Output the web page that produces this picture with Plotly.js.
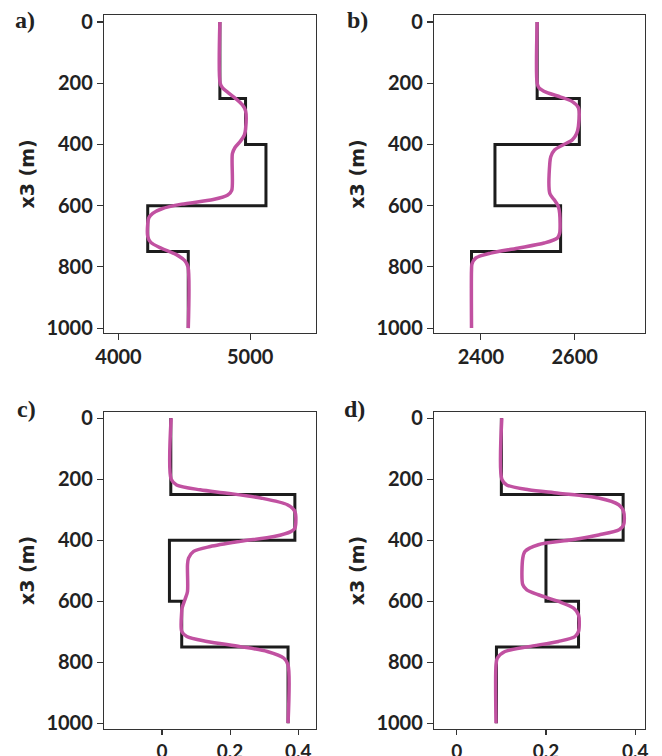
<!DOCTYPE html>
<html>
<head>
<meta charset="utf-8">
<script src="https://cdn.plot.ly/plotly-3.0.1.min.js"></script>
<style>html,body{margin:0;padding:0;background:#fff;}#chart{width:662px;height:756px;}</style>
</head>
<body>
<div id="chart"></div>
<script>
// ---- Data ----
// Layer boundaries (depth, m) for the true (blocky) models
var layerBounds = [0, 250, 400, 600, 750, 1000];
// True layer values per panel
var trueA = [4770, 4965, 5120, 4222, 4530];
var trueB = [2520, 2610, 2430, 2570, 2380];
var trueC = [0.026, 0.390, 0.022, 0.058, 0.370];
var trueD = [0.100, 0.373, 0.200, 0.273, 0.089];

// Inverted (smooth) curves: depth and value
var depthA = [0, 200, 215, 230, 250, 270, 290, 350, 370, 390, 410, 430, 550, 565, 580, 595, 610, 625, 640, 660, 700, 720, 740, 760, 780, 800, 1000];
var invA   = [4770, 4772, 4790, 4830, 4890, 4940, 4965, 4965, 4955, 4925, 4885, 4865, 4860, 4830, 4720, 4480, 4330, 4260, 4230, 4222, 4222, 4245, 4330, 4440, 4505, 4528, 4530];

var depthB = [0, 200, 215, 230, 245, 260, 280, 340, 365, 385, 400, 418, 440, 460, 560, 580, 602, 625, 690, 706, 722, 739, 755, 771, 790, 810, 1000];
var invB   = [2520, 2520, 2524, 2540, 2570, 2595, 2608, 2608, 2604, 2595, 2577, 2557, 2549, 2547, 2547, 2556, 2565, 2568, 2568, 2563, 2535, 2478, 2421, 2389, 2381, 2380, 2380];

var depthC = [0, 200, 219, 235, 246, 262, 284, 306, 361, 372, 388, 404, 421, 437, 459, 481, 568, 590, 623, 634, 699, 716, 732, 749, 765, 787, 809, 1000];
var invC   = [0.027, 0.027, 0.043, 0.112, 0.191, 0.290, 0.368, 0.390, 0.390, 0.378, 0.329, 0.230, 0.142, 0.093, 0.078, 0.075, 0.075, 0.069, 0.059, 0.058, 0.058, 0.073, 0.132, 0.230, 0.309, 0.358, 0.370, 0.370];

var depthD = [0, 200, 219, 235, 246, 262, 284, 306, 350, 366, 383, 399, 415, 437, 459, 546, 563, 579, 601, 623, 645, 699, 716, 732, 749, 765, 787, 809, 1000];
var invD   = [0.101, 0.101, 0.112, 0.161, 0.228, 0.318, 0.363, 0.374, 0.374, 0.364, 0.318, 0.258, 0.183, 0.153, 0.148, 0.148, 0.157, 0.183, 0.228, 0.262, 0.273, 0.273, 0.265, 0.228, 0.161, 0.108, 0.091, 0.088, 0.088];

var panelLabels = ['a)', 'b)', 'c)', 'd)'];
var yTitle = 'x3 (m)';

// ---- Build ----
function stepModel(vals) {
  var xs = [], ys = [];
  for (var i = 0; i < vals.length; i++) {
    xs.push(vals[i], vals[i]);
    ys.push(layerBounds[i], layerBounds[i + 1]);
  }
  return {x: xs, y: ys};
}

var BLACK = '#1c1c1c';
var MAGENTA = '#c151a1';
var panels = [
  {t: trueA, d: depthA, v: invA, xa: 'x',  ya: 'y'},
  {t: trueB, d: depthB, v: invB, xa: 'x2', ya: 'y2'},
  {t: trueC, d: depthC, v: invC, xa: 'x3', ya: 'y3'},
  {t: trueD, d: depthD, v: invD, xa: 'x4', ya: 'y4'}
];

var traces = [];
panels.forEach(function (p) {
  var s = stepModel(p.t);
  traces.push({x: s.x, y: s.y, xaxis: p.xa, yaxis: p.ya, mode: 'lines', type: 'scatter',
    line: {color: BLACK, width: 3}, hoverinfo: 'skip', showlegend: false});
  traces.push({x: p.v, y: p.d, xaxis: p.xa, yaxis: p.ya, mode: 'lines', type: 'scatter',
    line: {color: MAGENTA, width: 3.5, shape: 'spline', smoothing: 0.8}, hoverinfo: 'skip', showlegend: false});
});

var tickFont = {family: 'Lato, "DejaVu Sans", sans-serif', size: 20, color: '#222', weight: 700};
var tickFontBottom = {family: 'Lato, "DejaVu Sans", sans-serif', size: 19, color: '#222', weight: 700};
function xax(dom, rng, dtick, font, len) {
  return {domain: dom, range: rng, dtick: dtick, tick0: 0, ticks: 'outside', ticklen: len, tickwidth: 1.2,
    tickcolor: '#333', showline: true, mirror: true, linecolor: '#333', linewidth: 1.2,
    showgrid: false, zeroline: false, tickfont: font};
}
function yax(dom, rng, anchor) {
  return {domain: dom, range: rng, dtick: 200, tick0: 0, ticks: 'outside', ticklen: 6, tickwidth: 1.2,
    tickcolor: '#333', showline: true, mirror: true, linecolor: '#333', linewidth: 1.2,
    showgrid: false, zeroline: false, tickfont: tickFont, anchor: anchor,
    title: {text: yTitle, font: {family: '"DejaVu Sans", sans-serif', size: 19, color: '#222', weight: 700}, standoff: 6}};
}

var W = 662, H = 756;
var colL = [104 / W, 316 / W], colR = [434 / W, 645 / W];
var rowT = [1 - 333 / H, 1 - 15 / H], rowB = [1 - 729 / H, 1 - 412 / H];

var layout = {
  width: W, height: H,
  margin: {l: 0, r: 0, t: 0, b: 0},
  paper_bgcolor: '#fff', plot_bgcolor: '#fff',
  showlegend: false,
  xaxis:  Object.assign(xax(colL, [3890, 5500], 1000, tickFont, 6), {anchor: 'y'}),
  yaxis:  yax(rowT, [1016, -23], 'x'),
  xaxis2: Object.assign(xax(colR, [2300, 2750], 200, tickFont, 6), {anchor: 'y2'}),
  yaxis2: yax(rowT, [1016, -23], 'x2'),
  xaxis3: Object.assign(xax(colL, [-0.170, 0.452], 0.2, tickFontBottom, 5), {anchor: 'y3'}),
  yaxis3: yax(rowB, [1019, -20], 'x3'),
  xaxis4: Object.assign(xax(colR, [-0.051, 0.422], 0.2, tickFontBottom, 5), {anchor: 'y4'}),
  yaxis4: yax(rowB, [1019, -20], 'x4'),
  annotations: []
};

var labelPos = [[25, 20], [357, 20], [26, 409], [354, 409]];
panelLabels.forEach(function (t, i) {
  layout.annotations.push({text: t, xref: 'paper', yref: 'paper', showarrow: false,
    x: labelPos[i][0] / W, y: 1 - labelPos[i][1] / H, xanchor: 'center', yanchor: 'middle',
    font: {family: '"Liberation Serif", "Times New Roman", serif', size: 24, color: '#222', weight: 700}});
});

Plotly.newPlot('chart', traces, layout, {staticPlot: true});
</script>
</body>
</html>
